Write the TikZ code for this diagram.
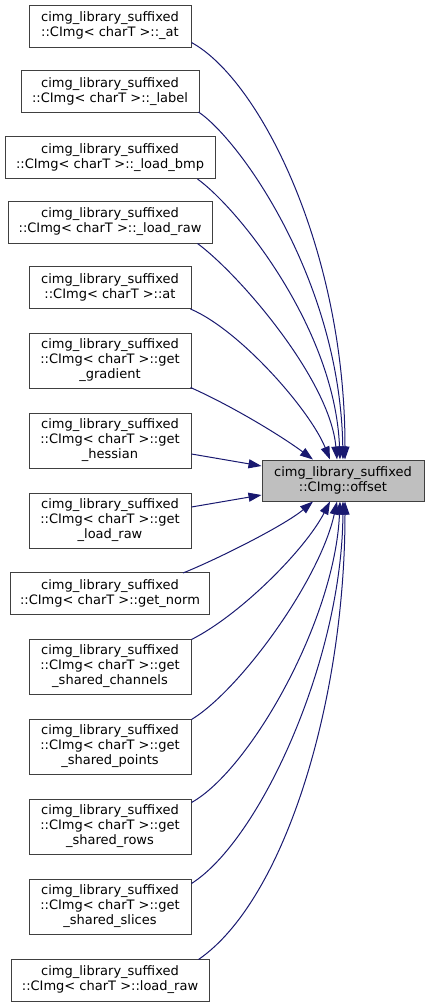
\documentclass[tikz,border=0pt]{standalone}
\usepackage{fontspec}
\setmainfont{DejaVu Sans}
\usetikzlibrary{arrows.meta}
\definecolor{edgecol}{HTML}{191970}
\definecolor{boxline}{HTML}{404040}
\definecolor{hilite}{HTML}{BFBFBF}
\tikzset{
  fn/.style={draw=boxline, line width=1pt, fill=white, align=center, inner sep=0pt,
    font=\fontsize{13}{15}\selectfont, minimum height=42pt},
  fn3/.style={fn, minimum height=55pt},
  target/.style={fn, fill=hilite, minimum height=41pt},
  call/.style={draw=edgecol, line width=1pt, -{Triangle[length=13pt,width=9pt]}, color=edgecol}
}
\newcommand{\cl}{cimg\_library\_suffixed\\::CImg< charT >::}
\begin{document}
\begin{tikzpicture}[x=1pt,y=-1pt]
\useasboundingbox (0,0) rectangle (429,1007);
\node[fn, minimum width=162pt] (n1) at (110,26) {\cl\_at};
\node[fn, minimum width=178pt] (n2) at (110,91.5) {\cl\_label};
\node[fn, minimum width=210pt] (n3) at (110,157.5) {\cl\_load\_bmp};
\node[fn, minimum width=204pt] (n4) at (110,222) {\cl\_load\_raw};
\node[fn, minimum width=162pt] (n5) at (110,287.5) {\cl at};
\node[fn3, minimum width=162pt] (n6) at (110,360.5) {\cl get\\\_gradient};
\node[fn3, minimum width=162pt] (n7) at (110,440.5) {\cl get\\\_hessian};
\node[fn3, minimum width=162pt] (n8) at (110,520.5) {\cl get\\\_load\_raw};
\node[fn, minimum width=199pt] (n9) at (110,593.5) {\cl get\_norm};
\node[fn3, minimum width=162pt] (n10) at (110,666.5) {\cl get\\\_shared\_channels};
\node[fn3, minimum width=162pt] (n11) at (110,746.5) {\cl get\\\_shared\_points};
\node[fn3, minimum width=162pt] (n12) at (110,826.5) {\cl get\\\_shared\_rows};
\node[fn3, minimum width=162pt] (n13) at (110,906.5) {\cl get\\\_shared\_slices};
\node[fn, minimum width=198pt] (n14) at (110,980) {\cl load\_raw};
\node[target, minimum width=162pt] (t) at (343,480.5) {cimg\_library\_suffixed\\::CImg::offset};

\draw[call] ([yshift=5pt]n1.south east) .. controls (260,80) and (345,250) .. ([xshift=2pt]t.north);
\draw[call] ([xshift=-1pt,yshift=1pt]n2.south east) .. controls (240,140) and (340,280) .. (t.north);
\draw[call] ([xshift=-18pt]n3.south east) .. controls (240,210) and (335,330) .. ([xshift=-3pt]t.north);
\draw[call] ([xshift=-15pt]n4.south east) .. controls (240,275) and (330,380) .. ([xshift=-6pt]t.north);
\draw[call] ([xshift=-1pt]n5.south east) .. controls (240,330) and (310,410) .. ([xshift=-13pt]t.north);
\draw[call] ([xshift=-1pt,yshift=1pt]n6.south east) .. controls (230,405) and (280,435) .. ([xshift=-30pt]t.north);
\draw[call] ([yshift=-13.5pt]n7.east) -- ([yshift=14.5pt]t.west);
\draw[call] ([yshift=13.5pt]n8.east) -- ([yshift=-14.5pt]t.west);
\draw[call] ([xshift=-27pt,yshift=-1pt]n9.north east) .. controls (220,558) and (285,525) .. ([xshift=-30pt]t.south);
\draw[call] ([yshift=-1pt]n10.north east) .. controls (240,615) and (305,550) .. ([xshift=-13pt]t.south);
\draw[call] ([yshift=-1pt]n11.north east) .. controls (240,690) and (320,580) .. ([xshift=-6pt]t.south);
\draw[call] ([yshift=-4pt]n12.north east) .. controls (250,770) and (335,620) .. ([xshift=-3pt]t.south);
\draw[call] ([yshift=-5pt]n13.north east) .. controls (260,840) and (342,660) .. (t.south);
\draw[call] ([xshift=-11pt,yshift=-1pt]n14.north east) .. controls (285,900) and (345,700) .. ([xshift=2pt]t.south);
\end{tikzpicture}
\end{document}
